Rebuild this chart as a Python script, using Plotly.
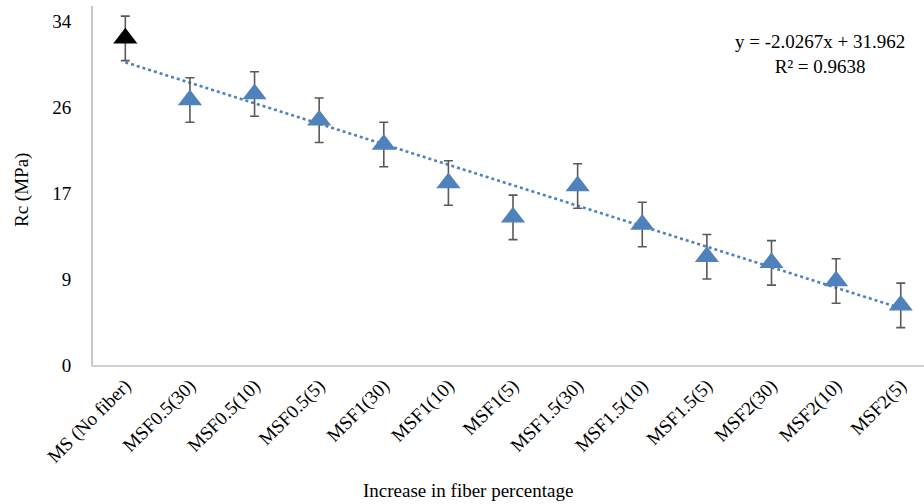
import plotly.graph_objects as go

categories = ["MS (No fiber)", "MSF0.5(30)", "MSF0.5(10)", "MSF0.5(5)", "MSF1(30)",
              "MSF1(10)", "MSF1(5)", "MSF1.5(30)", "MSF1.5(10)", "MSF1.5(5)",
              "MSF2(30)", "MSF2(10)", "MSF2(5)"]
rc_values = [32.3, 26.2, 26.8, 24.2, 21.8, 18.0, 14.6, 17.7, 13.9, 10.7, 10.1, 8.3, 5.9]
rc_errors = [2.2, 2.2, 2.2, 2.2, 2.2, 2.2, 2.2, 2.2, 2.2, 2.2, 2.2, 2.2, 2.2]
y_tickvals = [0, 8.5, 17, 25.5, 34]
y_ticktext = ["0", "9", "17", "26", "34"]
trend_slope = -2.0267
trend_intercept = 31.962
equation_text = "y = -2.0267x + 31.962<br>R² = 0.9638"

x_pos = list(range(1, len(categories) + 1))
marker_colors = ["#000000"] + ["#4F81BD"] * (len(categories) - 1)

FONT = "Liberation Serif"

fig = go.Figure()

# trendline
trend_x = [x_pos[0], x_pos[-1]]
trend_y = [trend_slope * x + trend_intercept for x in trend_x]
fig.add_trace(go.Scatter(
    x=trend_x, y=trend_y, mode="lines",
    line=dict(color="#4F81BD", width=2.6, dash="dot"),
    showlegend=False, hoverinfo="skip"))

# data points with error bars
fig.add_trace(go.Scatter(
    x=x_pos, y=rc_values, mode="markers",
    marker=dict(symbol="triangle-up", size=21, color=marker_colors,
                line=dict(width=0)),
    error_y=dict(type="data", array=rc_errors, visible=True,
                 color="#595959", thickness=1.6, width=4.5),
    showlegend=False))

fig.update_layout(
    width=924, height=504,
    margin=dict(l=93, r=0, t=6, b=139, autoexpand=False),
    paper_bgcolor="white", plot_bgcolor="white",
    font=dict(family=FONT, size=19, color="#000000"),
    xaxis=dict(
        range=[0.5, 13.36], tickmode="array", tickvals=x_pos, ticktext=categories,
        tickangle=-45, showgrid=False, zeroline=False, automargin=False,
        showline=True, linecolor="#D0D0D0", linewidth=2,
        ticks="", tickfont=dict(family=FONT, size=19, color="#000000"),
    ),
    yaxis=dict(
        range=[0, 35.5], tickmode="array", tickvals=y_tickvals, ticktext=y_ticktext,
        showgrid=False, zeroline=False, automargin=False,
        showline=True, linecolor="#C8C8C8", linewidth=2,
        ticks="", ticklabelstandoff=16,
        tickfont=dict(family=FONT, size=19, color="#000000"),
    ),
    annotations=[
        dict(text="Increase in fiber percentage", xref="paper", yref="paper",
             x=(468 - 93) / 831, y=-(490 - 365) / 359, xanchor="center", yanchor="middle",
             showarrow=False, font=dict(family=FONT, size=19, color="#000000")),
        dict(text="Rc (MPa)", xref="paper", yref="paper", textangle=-90,
             x=-(93 - 22) / 831, y=(365 - 190) / 359, xanchor="center", yanchor="middle",
             showarrow=False, font=dict(family=FONT, size=19, color="#000000")),
        dict(text=equation_text, xref="paper", yref="paper",
             x=(820 - 93) / 831, y=(365 - 54) / 359, xanchor="center", yanchor="middle",
             showarrow=False, align="center",
             font=dict(family=FONT, size=19, color="#000000")),
    ],
)

fig.write_html(
    "out.html",
    config={"displayModeBar": False},
    post_script="document.body.style.margin='0';document.body.style.overflow='hidden';",
)
